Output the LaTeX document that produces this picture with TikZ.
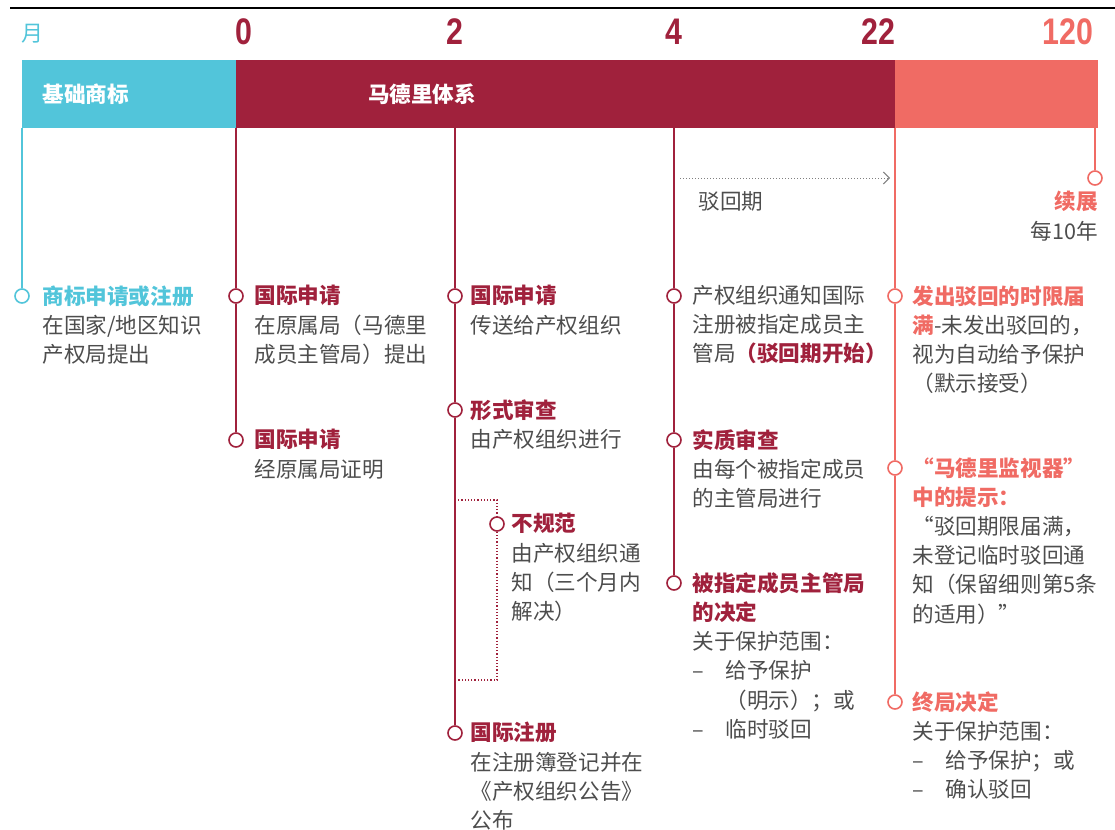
\documentclass[tikz,border=0pt]{standalone}
\usepackage{fontspec}
\setmainfont{Noto Sans CJK SC}
\newfontfamily\numfont[FakeStretch=0.82]{Liberation Sans}
\usetikzlibrary{arrows.meta}

\definecolor{mcyan}{HTML}{52C5DA}
\definecolor{mred}{HTML}{A0213C}
\definecolor{msalmon}{HTML}{F06B64}
\definecolor{mgray}{HTML}{4D4D4D}

\newcommand{\hd}[2]{{\bfseries\color{#1}#2}}

\begin{document}
\begin{tikzpicture}[x=0.5pt,y=-0.5pt]
  \tikzstyle{dot} = [draw, circle, fill=white, line width=0.8pt, minimum size=7pt, inner sep=0pt]
  \tikzstyle{txt} = [anchor=north west, inner sep=0pt, align=left, text=mgray, font=\fontsize{10.8}{14.6}\selectfont]
  \tikzstyle{num} = [inner sep=0pt, font=\numfont\bfseries\fontsize{18.5}{18.5}\selectfont]
  \tikzstyle{tl} = [line width=0.8pt]

  \useasboundingbox (0,0) rectangle (1115,830);
  \draw[line width=1.4pt] (10,8) -- (1115,8);

  % months
  \node[inner sep=0pt, text=mcyan, font=\fontsize{11}{11}\selectfont] (m) at (32,34) {月};
  \node[num, text=mred] (m0) at (244,32) {0};
  \node[num, text=mred] (m2) at (455,32) {2};
  \node[num, text=mred] (m4) at (674,32) {4};
  \node[num, text=mred] (m22) at (878,32) {22};
  \node[num, text=msalmon] (m120) at (1068,32) {120};

  % bar
  \fill[mcyan] (22,60) rectangle (236,128);
  \fill[mred] (236,60) rectangle (895,128);
  \fill[msalmon] (895,60) rectangle (1098,128);
  \node[anchor=west, inner sep=0pt, text=white, font=\bfseries\fontsize{10.8}{10.8}\selectfont] (bar0) at (42,94) {基础商标};
  \node[inner sep=0pt, text=white, font=\bfseries\fontsize{10.8}{10.8}\selectfont] (bar1) at (422,94) {马德里体系};

  \coordinate (v0) at (22,128);
  \coordinate (v1) at (236,128);
  \coordinate (v2) at (455,128);
  \coordinate (v3) at (674,128);
  \coordinate (v4) at (895,128);
  \coordinate (v5) at (1095,128);

  % circles
  \node[dot, draw=mcyan] (c0) at (22,296) {};
  \node[dot, draw=mred] (c1a) at (236,296) {};
  \node[dot, draw=mred] (c1b) at (236,440) {};
  \node[dot, draw=mred] (c2a) at (455,296) {};
  \node[dot, draw=mred] (c2b) at (455,410) {};
  \node[dot, draw=mred] (c2c) at (497,524) {};
  \node[dot, draw=mred] (c2d) at (455,733) {};
  \node[dot, draw=mred] (c3a) at (674,296) {};
  \node[dot, draw=mred] (c3b) at (674,440) {};
  \node[dot, draw=mred] (c3c) at (674,583) {};
  \node[dot, draw=msalmon] (c4a) at (895,296) {};
  \node[dot, draw=msalmon] (c4b) at (895,468) {};
  \node[dot, draw=msalmon] (c4c) at (895,702) {};
  \node[dot, draw=msalmon] (c5) at (1095,178) {};

  \coordinate (b1) at (455,500);
  \coordinate (b2) at (497,500);
  \coordinate (b3) at (497,680);
  \coordinate (b4) at (455,680);
  \coordinate (r0) at (680,178);
  \coordinate (r1) at (890,178);

  % lines
  \draw[tl, mcyan] (v0) -- (c0);
  \draw[tl, mred] (v1) -- (c1a) -- (c1b);
  \draw[tl, mred] (v2) -- (c2a) -- (c2b) -- (c2d);
  \draw[line width=0.6pt, mred, densely dotted] (b1) -- (b2) -- (c2c) -- (b3) -- (b4);
  \draw[tl, mred] (v3) -- (c3a) -- (c3b) -- (c3c);
  \draw[tl, msalmon] (v4) -- (c4a) -- (c4b) -- (c4c);
  \draw[tl, msalmon] (v5) -- (c5);
  \draw[line width=0.5pt, gray, densely dotted, -{Straight Barb[length=3pt,width=6pt]}] (r0) -- (r1);

  % texts
  \node[txt] (rej) at (698,191) {驳回期};
  \node[txt, anchor=north east, align=right] (t5) at (1098,191) {\hd{msalmon}{续展}\\每10年};

  \node[txt] (t0) at (42,285) {\hd{mcyan}{商标申请或注册}\\在国家/地区知识\\产权局提出};
  \node[txt] (t1a) at (254,285) {\hd{mred}{国际申请}\\在原属局（马德里\\成员主管局）提出};
  \node[txt] (t1b) at (254,429) {\hd{mred}{国际申请}\\经原属局证明};
  \node[txt] (t2a) at (470,285) {\hd{mred}{国际申请}\\传送给产权组织};
  \node[txt] (t2b) at (470,399) {\hd{mred}{形式审查}\\由产权组织进行};
  \node[txt] (t2c) at (511,513) {\hd{mred}{不规范}\\由产权组织通\\知（三个月内\\解决）};
  \node[txt] (t2d) at (470,722) {\hd{mred}{国际注册}\\在注册簿登记并在\\《产权组织公告》\\公布};
  \node[txt] (t3a) at (692,285) {产权组织通知国际\\注册被指定成员主\\管局\hd{mred}{（驳回期开始）}};
  \node[txt] (t3b) at (692,429) {\hd{mred}{实质审查}\\由每个被指定成员\\的主管局进行};
  \node[txt] (t3c) at (692,572) {\hd{mred}{被指定成员主管局}\\\hd{mred}{的决定}\\关于保护范围：\\–\quad 给予保护\\\phantom{–\quad }（明示）；或\\–\quad 临时驳回};
  \node[txt] (t4a) at (912,285) {\hd{msalmon}{发出驳回的时限届}\\\hd{msalmon}{满}-未发出驳回的，\\视为自动给予保护\\（默示接受）};
  \node[txt] (t4b) at (912,457) {\hd{msalmon}{“马德里监视器”}\\\hd{msalmon}{中的提示：}\\“驳回期限届满，\\未登记临时驳回通\\知（保留细则第5条\\的适用）”};
  \node[txt] (t4c) at (912,691) {\hd{msalmon}{终局决定}\\关于保护范围：\\–\quad 给予保护；或\\–\quad 确认驳回};
\end{tikzpicture}
\end{document}
